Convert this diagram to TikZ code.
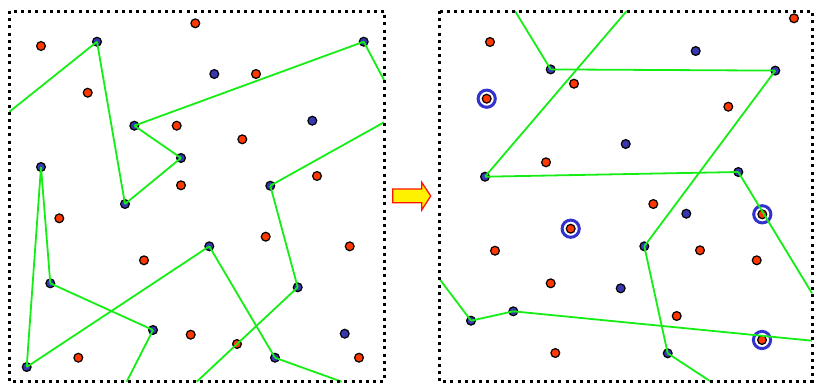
\documentclass[tikz,border=0pt]{standalone}
\usepackage{tikz}
\usetikzlibrary{calc,arrows.meta,positioning}
\definecolor{dotred}{RGB}{255,55,0}
\definecolor{dotblue}{RGB}{55,55,175}
\definecolor{ringblue}{RGB}{50,50,205}
\definecolor{linegreen}{RGB}{20,238,20}
\tikzset{
  frame/.style={draw=black, line width=3pt, dash pattern=on 3pt off 4.2pt},
  rdot/.style={circle, draw=black, fill=dotred, line width=1.2pt, minimum size=8.8pt, inner sep=0pt},
  bdot/.style={circle, draw=black, fill=dotblue, line width=1.2pt, minimum size=8.8pt, inner sep=0pt},
  ring/.style={draw=ringblue, line width=3pt},
  link/.style={draw=linegreen, line width=1.8pt},
  bigarrow/.style={draw=red!85!orange, fill=yellow, line width=1.3pt, line join=miter}
}

\begin{document}
\begin{tikzpicture}[x=1pt,y=-1pt]
  \useasboundingbox (0,0) rectangle (816,384);
  % left panel
  \foreach \n/\x/\y in {1/195.3/23.3,2/41/46,3/256/74,4/87.7/92.7,5/176.7/125.7,6/242.3/139.3,
    7/317/176,8/181/185.3,9/59.3/218.3,10/265.7/236.7,11/349.7/246.3,12/144/260.3,
    13/190.7/334.7,14/237/344,15/78.3/357.7,16/359/357.7}
    \node[rdot] (lr\n) at (\x,\y) {};
  \foreach \n/\x/\y in {1/97/41.7,2/363.7/41.7,3/214.3/74,4/312.3/120.7,5/134.3/125.7,6/181/158,
    7/41/167,8/270.3/185.7,9/125/204,10/209.3/246.3,11/50.3/283.3,12/297.7/287.3,
    13/153/330,14/344.7/333.7,15/26.7/367,16/275/357.7}
    \node[bdot] (lb\n) at (\x,\y) {};
  \coordinate (lx1) at (9.5,111.7);
  \coordinate (lx2) at (384,80);
  \coordinate (lx3) at (384,122.3);
  \coordinate (lx4) at (196.7,381.7);
  \coordinate (lx5) at (126.7,381.7);
  \coordinate (lx6) at (341.7,381.7);
  \foreach \a/\b in {lx1/lb1,lb1/lb9,lb9/lb6,lb6/lb5,lb5/lb2,lb2/lx2,lx3/lb8,lb8/lb12,lb12/lx4,
    lb7/lb15,lb7/lb11,lb11/lb13,lb13/lx5,lb15/lb10,lb10/lb16,lb16/lx6}
    \draw[link] (\a.center) -- (\b.center);
  \draw[frame] (9.5,11) rectangle (384,381.7);

  % arrow between the panels
  \draw[bigarrow] (392.7,189) -- (421.7,189) -- (421.7,182.3) -- (430.7,196)
    -- (421.7,210) -- (421.7,202.7) -- (392.7,202.7) -- cycle;

  % right panel
  \foreach \n/\x/\y in {1/794/18.3,2/490/42,3/574/83.7,4/486.7/98.7,5/728.3/106.7,6/546/162.3,
    7/653.3/204,8/762.3/214.3,9/570.7/228.7,10/495/250.7,11/700/250.3,12/756.7/260.3,
    13/550.7/283.3,14/676.7/316,15/762/340,16/555.3/353}
    \node[rdot] (rr\n) at (\x,\y) {};
  \foreach \n/\x/\y in {1/695.7/51,2/550.7/69.4,3/775.3/70.6,4/625.7/144,5/485/176.7,6/738.3/172,
    7/686.3/213.7,8/644.3/246.3,9/620.7/288.3,10/513.3/311.3,11/471/320.7,12/667.7/353.3}
    \node[bdot] (rb\n) at (\x,\y) {};
  \foreach \n in {4,8,9,15}
    \draw[ring] (rr\n) circle (8.6pt);
  \coordinate (rx1) at (515,11);
  \coordinate (rx2) at (626.7,11);
  \coordinate (rx3) at (812,293.3);
  \coordinate (rx4) at (711,381.7);
  \coordinate (rx5) at (439.5,279);
  \coordinate (rx6) at (812,340.7);
  \foreach \a/\b in {rx1/rb2,rb2/rb3,rb3/rb8,rx2/rb5,rb5/rb6,rb6/rx3,rb8/rb12,rb12/rx4,
    rx5/rb11,rb11/rb10,rb10/rx6}
    \draw[link] (\a.center) -- (\b.center);
  \draw[frame] (439.5,11) rectangle (812,381.7);
\end{tikzpicture}
\end{document}
